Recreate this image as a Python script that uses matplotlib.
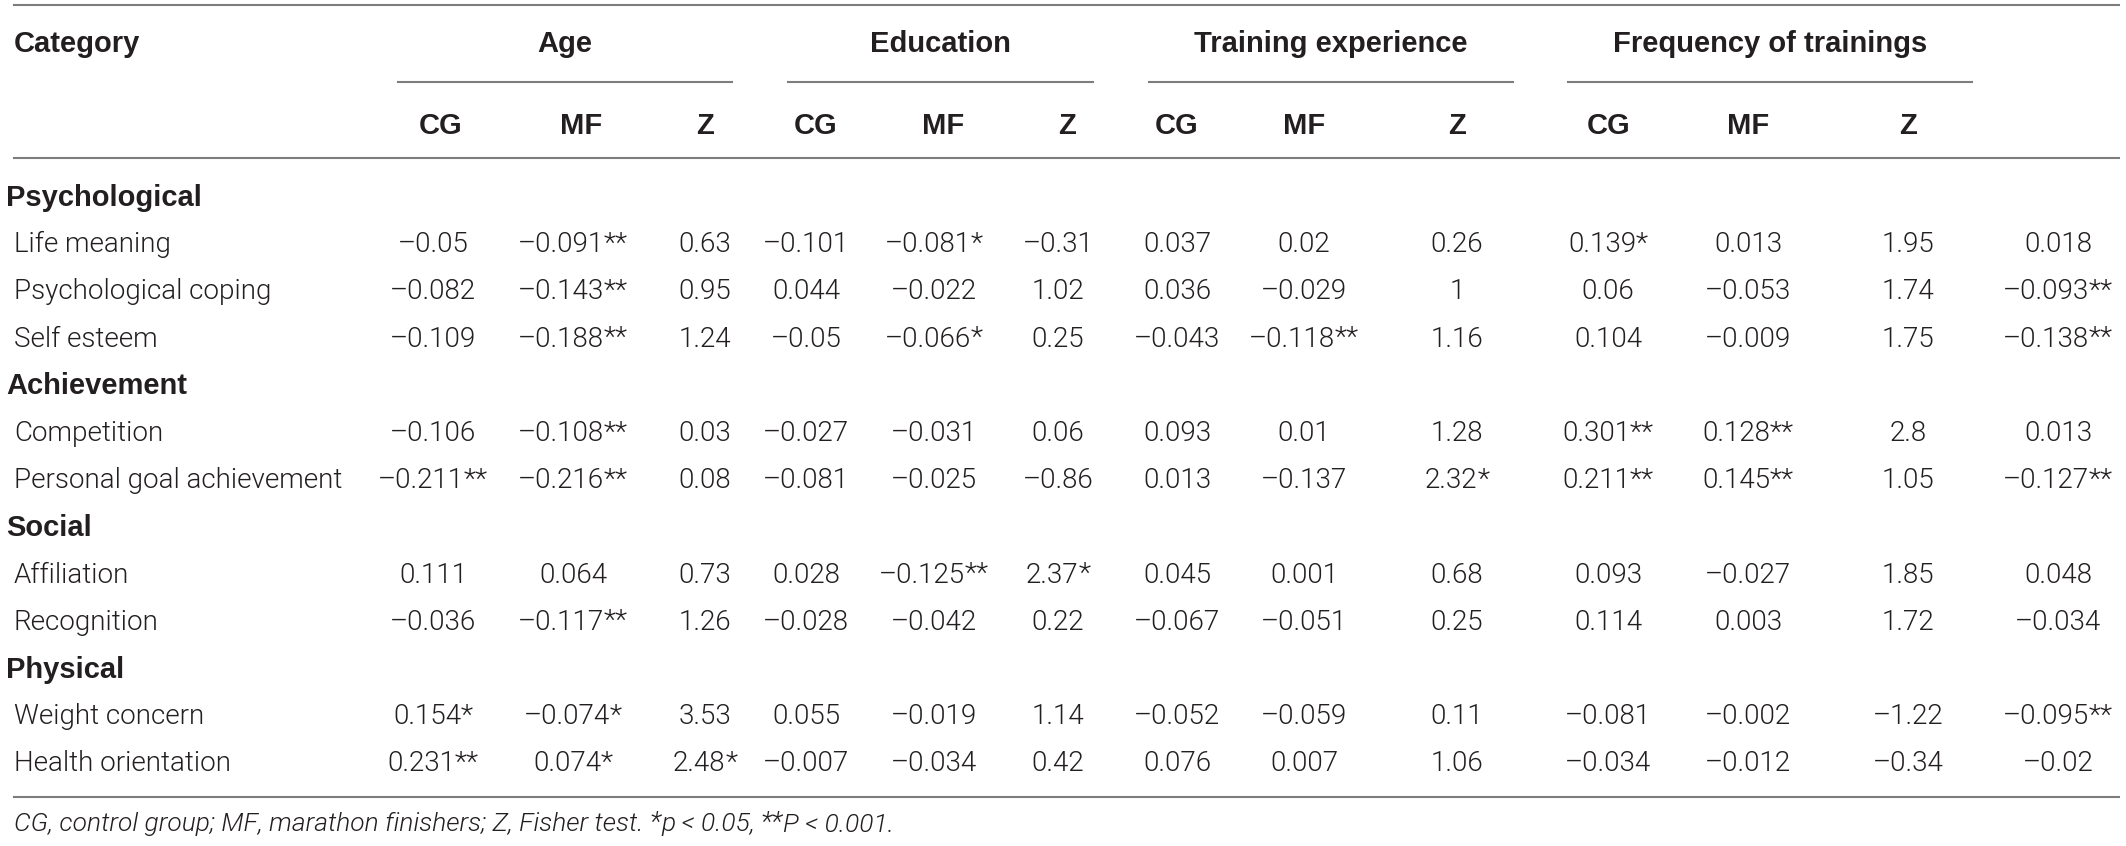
import matplotlib
matplotlib.use('Agg')
import matplotlib.pyplot as plt

# ---- table content ----
group_names = ['Age', 'Education', 'Training experience', 'Frequency of trainings']
sub_names = ['CG', 'MF', 'Z']

categories = ['Psychological', 'Achievement', 'Social', 'Physical']
items_psychological = ['Life meaning', 'Psychological coping', 'Self esteem']
items_achievement = ['Competition', 'Personal goal achievement']
items_social = ['Affiliation', 'Recognition']
items_physical = ['Weight concern', 'Health orientation']

life_meaning = ['–0.05', '–0.091**', '0.63', '–0.101', '–0.081*', '–0.31',
                '0.037', '0.02', '0.26', '0.139*', '0.013', '1.95', '0.018']
psych_coping = ['–0.082', '–0.143**', '0.95', '0.044', '–0.022', '1.02',
                '0.036', '–0.029', '1', '0.06', '–0.053', '1.74', '–0.093**']
self_esteem = ['–0.109', '–0.188**', '1.24', '–0.05', '–0.066*', '0.25',
               '–0.043', '–0.118**', '1.16', '0.104', '–0.009', '1.75', '–0.138**']
competition = ['–0.106', '–0.108**', '0.03', '–0.027', '–0.031', '0.06',
               '0.093', '0.01', '1.28', '0.301**', '0.128**', '2.8', '0.013']
goal_achievement = ['–0.211**', '–0.216**', '0.08', '–0.081', '–0.025', '–0.86',
                    '0.013', '–0.137', '2.32*', '0.211**', '0.145**', '1.05', '–0.127**']
affiliation = ['0.111', '0.064', '0.73', '0.028', '–0.125**', '2.37*',
               '0.045', '0.001', '0.68', '0.093', '–0.027', '1.85', '0.048']
recognition = ['–0.036', '–0.117**', '1.26', '–0.028', '–0.042', '0.22',
               '–0.067', '–0.051', '0.25', '0.114', '0.003', '1.72', '–0.034']
weight_concern = ['0.154*', '–0.074*', '3.53', '0.055', '–0.019', '1.14',
                  '–0.052', '–0.059', '0.11', '–0.081', '–0.002', '–1.22', '–0.095**']
health_orientation = ['0.231**', '0.074*', '2.48*', '–0.007', '–0.034', '0.42',
                      '0.076', '0.007', '1.06', '–0.034', '–0.012', '–0.34', '–0.02']

footer = [('CG, control group; MF, marathon finishers; Z, Fisher test. ', False),
          ('*', True), ('p < 0.05, ', False), ('**', True), ('P < 0.001.', False)]

# rows in display order: (label, values or None for category heading)
rows = [(categories[0], None),
        (items_psychological[0], life_meaning),
        (items_psychological[1], psych_coping),
        (items_psychological[2], self_esteem),
        (categories[1], None),
        (items_achievement[0], competition),
        (items_achievement[1], goal_achievement),
        (categories[2], None),
        (items_social[0], affiliation),
        (items_social[1], recognition),
        (categories[3], None),
        (items_physical[0], weight_concern),
        (items_physical[1], health_orientation)]

# ---- layout (pixels) ----
W, H = 2126, 846
TXT = '#231f20'
LINE = '#7d7d7d'
hdr_x = [441, 581, 705, 816, 943, 1067, 1177, 1304, 1457, 1609, 1748, 1908]
val_x = [433, 573, 705, 806, 934, 1058, 1177, 1304, 1457, 1608, 1748, 1908, 2058]
group_spans = [(398, 732), (788, 1093), (1149, 1513), (1568, 1972)]
row_y0, row_dy = 195, 47.2

LIGHT = dict(family=['Roboto', 'DejaVu Sans'], weight=300)
BOLD = dict(family=['Liberation Sans', 'DejaVu Sans'], weight='bold')
BODY_PT = 20
HDR_PT = 21

fig = plt.figure(figsize=(W / 100, H / 100), dpi=100)
ax = fig.add_axes([0, 0, 1, 1])
ax.set_xlim(0, W)
ax.set_ylim(H, 0)
ax.axis('off')
renderer = fig.canvas.get_renderer()


def baseline(yc, pt):
    return yc + 0.36 * pt * 100 / 72


def rich(x, yc, parts, ha='center', pt=BODY_PT, style='normal'):
    """parts: list of (text, superscript?) drawn in sequence"""
    yb = baseline(yc, pt)
    objs = []
    total = 0
    for s, sup in parts:
        size = pt * 1.02 if sup else pt
        t = ax.text(0, yb, s, fontsize=size, color=TXT, va='baseline', ha='left',
                    style=style, **LIGHT)
        w = t.get_window_extent(renderer).width
        objs.append((t, w, sup))
        total += w
    x0 = x - total / 2 if ha == 'center' else x
    for t, w, sup in objs:
        t.set_x(x0)
        if sup:
            t.set_y(yb - 0.02 * pt * 100 / 72)
        x0 += w


def cell(x, yc, s):
    num = s.rstrip('*')
    stars = s[len(num):]
    parts = [(num, False)]
    if stars:
        parts.append((stars, True))
    rich(x, yc, parts)


# rules
ax.plot([14, 2119], [5.5, 5.5], color=LINE, lw=1.5)
for a, b in group_spans:
    ax.plot([a, b], [82, 82], color=LINE, lw=1.5)
ax.plot([14, 2119], [158, 158], color=LINE, lw=1.5)
ax.plot([14, 2119], [797, 797], color=LINE, lw=1.5)

# header
ax.text(14, baseline(42, HDR_PT), 'Category', fontsize=HDR_PT, color=TXT,
        va='baseline', ha='left', **BOLD)
for name, (a, b) in zip(group_names, group_spans):
    ax.text((a + b) / 2, baseline(42, HDR_PT), name, fontsize=HDR_PT, color=TXT,
            va='baseline', ha='center', **BOLD)
for i, x in enumerate(hdr_x):
    ax.text(x, baseline(123, HDR_PT), sub_names[i % 3], fontsize=HDR_PT, color=TXT,
            va='baseline', ha='center', **BOLD)

# body
for r, (label, vals) in enumerate(rows):
    yc = row_y0 + r * row_dy
    if vals is None:
        ax.text(6, baseline(yc, HDR_PT), label, fontsize=HDR_PT, color=TXT,
                va='baseline', ha='left', **BOLD)
        continue
    ax.text(14, baseline(yc, BODY_PT), label, fontsize=BODY_PT, color=TXT,
            va='baseline', ha='left', **LIGHT)
    for x, v in zip(val_x, vals):
        cell(x, yc, v)

# footnote
rich(14, 822, footer, ha='left', pt=19, style='italic')

fig.savefig('out.png', dpi=100)
